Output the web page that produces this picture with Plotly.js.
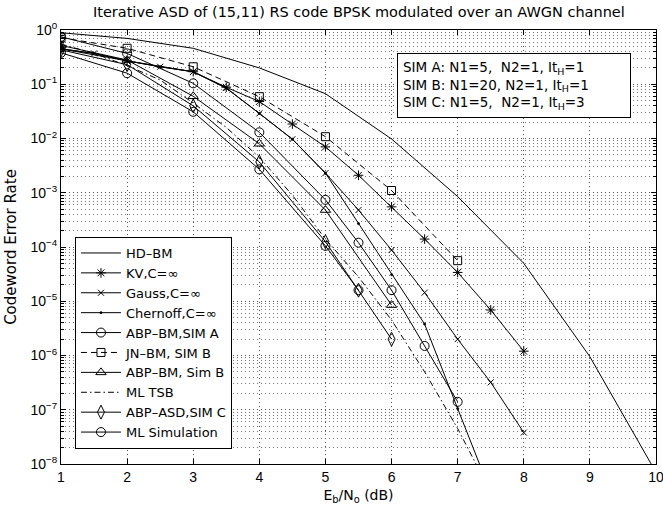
<!DOCTYPE html>
<html>
<head>
<meta charset="utf-8">
<script src="https://cdn.plot.ly/plotly-3.0.1.min.js"></script>
<style>html,body{margin:0;padding:0;background:#fff;}#chart{width:663px;height:508px;}</style>
</head>
<body>
<div id="chart"></div>
<script>
// ---- data ----
const xHD = [1,2,3,4,5,6,7,8,9,10];
const yHD = [0.89,0.7,0.46,0.2,0.067,0.0098,8.5e-4,5e-5,9.5e-7,7e-9];

const xKV = [1,2,3,3.5,4,4.5,5,5.5,6,6.5,7,7.5,8];
const yKV = [0.45,0.27,0.17,0.088,0.048,0.0185,7e-3,2.1e-3,5.5e-4,1.4e-4,3.4e-5,6.9e-6,1.2e-6];

const xGauss = [1,1.5,2,2.5,3,3.5,4,4.5,5,5.5,6,6.5,7,7.5,8];
const yGauss = [0.45,0.37,0.27,0.21,0.17,0.085,0.029,0.0097,2.3e-3,4.8e-4,8.8e-5,1.44e-5,2e-6,3.2e-7,3.8e-8];

const xChern = [1,1.5,2,2.5,3,3.5,4,4.5,5,5.5,6,6.5,7,7.5];
const yChern = [0.45,0.37,0.27,0.21,0.17,0.085,0.029,0.0097,2.3e-3,2.7e-4,3.1e-5,3.8e-6,1.05e-7,3e-9];

const xABPA = [1,2,3,4,5,5.5,6,6.5,7];
const yABPA = [0.75,0.37,0.104,0.013,7.4e-4,1.2e-4,1.6e-5,1.5e-6,1.4e-7];

const xJN = [1,2,3,4,5,6,7];
const yJN = [0.72,0.46,0.21,0.059,0.0108,1.1e-3,5.6e-5];

const xABPB = [1,2,3,4,5,6];
const yABPB = [0.52,0.28,0.06,8e-3,4.8e-4,8.5e-6];

const xTSB = [1,1.5,2,2.5,3,3.5,4,4.5,5,5.5,6,6.5,7,7.5];
const yTSB = [0.55,0.37,0.22,0.12,0.045,0.016,4.5e-3,9e-4,1.4e-4,2.8e-5,4.5e-6,5e-7,4.5e-8,3e-9];

const xASD = [1,2,3,4,5,5.5,6];
const yASD = [0.43,0.23,0.04,3.7e-3,1.25e-4,1.6e-5,2e-6];

const xMLS = [1,2,3,4,5,5.5];
const yMLS = [0.38,0.16,0.031,2.7e-3,1.05e-4,1.6e-5];

const seriesNames = ['HD\u2013BM','KV,C=\u221e','Gauss,C=\u221e','Chernoff,C=\u221e','ABP\u2013BM,SIM A','JN\u2013BM, SIM B','ABP\u2013BM, Sim B','ML TSB','ABP\u2013ASD,SIM C','ML Simulation'];

const xTickVals = [1,2,3,4,5,6,7,8,9,10];
const yTickVals = [1,1e-1,1e-2,1e-3,1e-4,1e-5,1e-6,1e-7,1e-8];
const yTickText = ['10<sup>0</sup>','10<sup>\u22121</sup>','10<sup>\u22122</sup>','10<sup>\u22123</sup>','10<sup>\u22124</sup>','10<sup>\u22125</sup>','10<sup>\u22126</sup>','10<sup>\u22127</sup>','10<sup>\u22128</sup>'];

const boxText = 'SIM A: N1=5,\u00a0 N2=1, It<sub>H</sub>=1<br>SIM B: N1=20, N2=1, It<sub>H</sub>=1<br>SIM C: N1=5,\u00a0 N2=1, It<sub>H</sub>=3';

// ---- traces ----
function tr(x, y, name, symbol, size, dash) {
  const t = {
    x: x, y: y, name: name, type: 'scatter',
    mode: symbol ? 'lines+markers' : 'lines',
    line: {color: '#000', width: 1, dash: dash || 'solid'},
    cliponaxis: true
  };
  if (symbol) {
    t.marker = {symbol: symbol, size: size, color: '#000', line: {color: '#000', width: 1}};
  }
  return t;
}

const data = [
  tr(xHD, yHD, seriesNames[0], null),
  tr(xKV, yKV, seriesNames[1], 'asterisk-open', 8),
  tr(xGauss, yGauss, seriesNames[2], 'x-thin-open', 6),
  tr(xChern, yChern, seriesNames[3], 'circle', 2),
  tr(xABPA, yABPA, seriesNames[4], 'circle-open', 9),
  tr(xJN, yJN, seriesNames[5], 'square-open', 8, '6px,4px'),
  tr(xABPB, yABPB, seriesNames[6], 'triangle-up-open', 9),
  tr(xTSB, yTSB, seriesNames[7], null, 0, '6px,3px,1.5px,3px'),
  tr(xASD, yASD, seriesNames[8], 'diamond-tall-open', 10),
  tr(xMLS, yMLS, seriesNames[9], 'circle-open', 9)
];

const fam = '"DejaVu Sans", "Liberation Sans", Arial, sans-serif';
const font = {family: fam, size: 13, color: '#000'};
const tickFont = {family: '"Liberation Sans", Arial, sans-serif', size: 14, color: '#000'};
const gridDash = '1px,3px';

const layout = {
  width: 663, height: 508,
  margin: {l: 61, r: 7, t: 30, b: 44, pad: 0},
  paper_bgcolor: '#fff', plot_bgcolor: '#fff',
  font: font,
  showlegend: true,
  title: {text: 'Iterative ASD of (15,11) RS code BPSK modulated over an AWGN channel',
          font: {family: fam, size: 14.5, color: '#000'},
          x: 0.5413, xanchor: 'center', y: 0.976, yanchor: 'middle'},
  xaxis: {
    range: [1, 10], tickvals: xTickVals, ticktext: xTickVals.map(String),
    showline: true, linecolor: '#000', linewidth: 1, mirror: 'allticks',
    ticks: 'inside', ticklen: 5, tickcolor: '#000', tickwidth: 1,
    showgrid: true, gridcolor: '#555', griddash: gridDash, gridwidth: 1,
    zeroline: false, tickfont: tickFont, ticklabeloverflow: 'allow',
    title: {text: 'E<sub>b</sub>/N<sub>o</sub> (dB)', font: {family: fam, size: 14, color: '#000'}, standoff: 6}
  },
  yaxis: {
    type: 'log', range: [-8, 0], tickvals: yTickVals, ticktext: yTickText,
    showline: true, linecolor: '#000', linewidth: 1, mirror: 'allticks',
    ticks: 'inside', ticklen: 5, tickcolor: '#000', tickwidth: 1,
    showgrid: true, gridcolor: '#555', griddash: gridDash, gridwidth: 1,
    zeroline: false, tickfont: tickFont, ticklabeloverflow: 'allow',
    minor: {dtick: 'D1', ticks: 'inside', ticklen: 3, tickcolor: '#000', showgrid: true, gridcolor: '#777', griddash: gridDash, gridwidth: 1},
    title: {text: 'Codeword Error Rate', font: {family: fam, size: 15, color: '#000'}, standoff: 10}
  },
  legend: {
    x: 0.0235, y: 0.523, xanchor: 'left', yanchor: 'top',
    bgcolor: '#fff', bordercolor: '#000', borderwidth: 1,
    font: font, itemwidth: 40, tracegroupgap: 0
  },
  annotations: [{
    xref: 'paper', yref: 'paper', x: 0.565, y: 0.947, xanchor: 'left', yanchor: 'top',
    text: boxText, showarrow: false, align: 'left', font: {family: fam, size: 13.5, color: '#000'},
    bgcolor: '#fff', bordercolor: '#000', borderwidth: 1, borderpad: 5, width: 222
  }]
};

Plotly.newPlot('chart', data, layout, {displayModeBar: false, staticPlot: true});
</script>
</body>
</html>
